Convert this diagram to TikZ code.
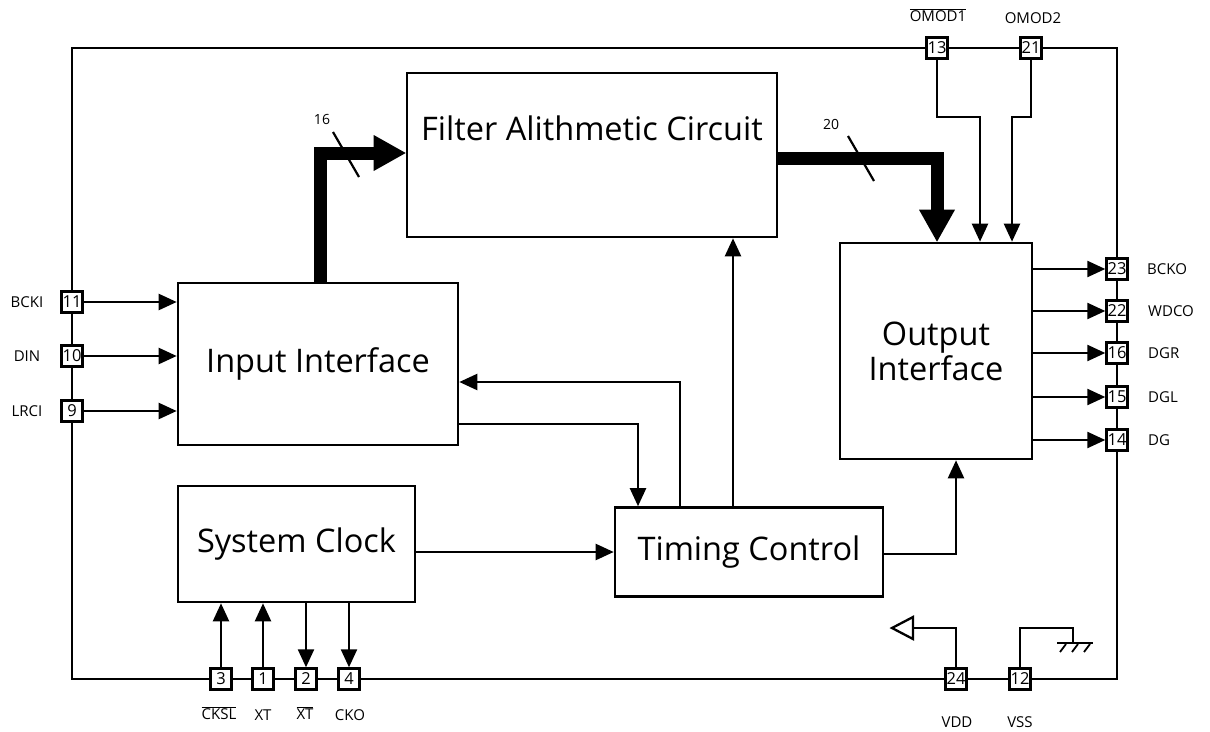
\documentclass[tikz,border=0pt]{standalone}
\usepackage{fontspec}
\setmainfont{Open Sans}
\usetikzlibrary{arrows.meta,calc}
\newcommand{\ovl}[1]{\ensuremath{\overline{\mbox{#1}}}}
\begin{document}
\begin{tikzpicture}[x=1pt,y=-1pt,
  blk/.style={draw,line width=2.6pt,inner sep=0pt,align=center,font=\fontsize{32.5}{35}\selectfont},
  boxtxt/.style={inner sep=0pt,font=\fontsize{32.5}{35}\selectfont},
  pin/.style={draw,line width=2.4pt,fill=white,minimum width=21pt,minimum height=21pt,inner sep=0pt,font=\fontsize{16.5}{16}\selectfont},
  lbl/.style={inner sep=0pt,font=\fontsize{15}{15}\selectfont},
  wire/.style={line width=2.3pt},
  arr/.style={wire,-{Triangle[length=18pt,width=16pt]}},
  bus/.style={line width=13pt,-{Triangle[length=32pt,width=36pt,line width=0pt]}},
  ]
\useasboundingbox (0,0) rectangle (1210,731);

% blocks
\node[blk,minimum width=370pt,minimum height=164pt] (filt) at (592,155) {};
\node[boxtxt] (filtT) at (592,128) {Filter Alithmetic Circuit};
\node[blk,minimum width=280pt,minimum height=162pt] (inp) at (318,364) {Input Interface};
\node[blk,minimum width=237pt,minimum height=116pt] (sys) at (296.5,544) {System Clock};
\node[blk,minimum width=268pt,minimum height=89pt] (tim) at (749,552) {Timing Control};
\node[blk,minimum width=192pt,minimum height=216pt] (outp) at (936,351) {Output\\Interface};

% frame corners
\coordinate (ctl) at (72,48);
\coordinate (ctr) at (1117,48);
\coordinate (cbr) at (1117,679);
\coordinate (cbl) at (72,679);

% pins
\node[pin] (P11) at (72,302) {11};
\node[pin] (P10) at (72,356) {10};
\node[pin] (P9) at (72,411) {9};
\node[pin] (P13) at (937,48) {13};
\node[pin] (P21) at (1031,48) {21};
\node[pin] (P23) at (1117,269) {23};
\node[pin] (P22) at (1117,311) {22};
\node[pin] (P16) at (1117,353) {16};
\node[pin] (P15) at (1117,397) {15};
\node[pin] (P14) at (1117,440) {14};
\node[pin] (P3) at (221,679) {3};
\node[pin] (P1) at (263,679) {1};
\node[pin] (P2) at (306,679) {2};
\node[pin] (P4) at (349,679) {4};
\node[pin] (P24) at (956,679) {24};
\node[pin] (P12) at (1020,679) {12};

% frame wire
\draw[wire] (P11) -- (ctl) -- (P13);
\draw[wire] (P13) -- (P21);
\draw[wire] (P21) -- (ctr) -- (P23);
\draw[wire] (P23) -- (P22);
\draw[wire] (P22) -- (P16);
\draw[wire] (P16) -- (P15);
\draw[wire] (P15) -- (P14);
\draw[wire] (P14) -- (cbr) -- (P12);
\draw[wire] (P12) -- (P24);
\draw[wire] (P24) -- (P4);
\draw[wire] (P4) -- (P2);
\draw[wire] (P2) -- (P1);
\draw[wire] (P1) -- (P3);
\draw[wire] (P3) -- (cbl) -- (P9);
\draw[wire] (P9) -- (P10);
\draw[wire] (P10) -- (P11);

% pin labels
\node[lbl] (lBCKI) at (27,302) {BCKI};
\node[lbl] (lDIN) at (27,356) {DIN};
\node[lbl] (lLRCI) at (27,411) {LRCI};
\node[lbl,anchor=west] (lBCKO) at (1147,269) {BCKO};
\node[lbl,anchor=west] (lWDCO) at (1148,311) {WDCO};
\node[lbl,anchor=west] (lDGR) at (1148,353) {DGR};
\node[lbl,anchor=west] (lDGL) at (1148,397) {DGL};
\node[lbl,anchor=west] (lDG) at (1148,440) {DG};
\node[lbl] (lOMOD1) at (938,15) {\ovl{OMOD1}};
\node[lbl] (lOMOD2) at (1033,18) {OMOD2};
\node[lbl] (lCKSL) at (219,713) {\ovl{CKSL}};
\node[lbl] (lXT) at (263,715) {XT};
\node[lbl] (lXTb) at (305,713) {\ovl{XT}};
\node[lbl] (lCKO) at (350,715) {CKO};
\node[lbl] (lVDD) at (957,722) {VDD};
\node[lbl] (lVSS) at (1020,722) {VSS};

% input arrows
\draw[arr] (P11) -- (inp.west |- P11);
\draw[arr] (P10) -- (inp.west |- P10);
\draw[arr] (P9) -- (inp.west |- P9);

% output arrows
\draw[arr] (outp.east |- P23) -- (P23);
\draw[arr] (outp.east |- P22) -- (P22);
\draw[arr] (outp.east |- P16) -- (P16);
\draw[arr] (outp.east |- P15) -- (P15);
\draw[arr] (outp.east |- P14) -- (P14);

% OMOD lines
\coordinate (m13) at (980,117);
\coordinate (m21) at (1012,117);
\draw[arr] (P13) |- (m13) -- (outp.north -| m13);
\draw[arr] (P21) |- (m21) -- (outp.north -| m21);

% system clock pins
\draw[arr] (P3) -- (sys.south -| P3);
\draw[arr] (P1) -- (sys.south -| P1);
\draw[arr] (sys.south -| P2) -- (P2);
\draw[arr] (sys.south -| P4) -- (P4);

% internal connections
\draw[arr] (sys.east |- tim.west) -- (tim.west);
\coordinate (c733) at (733,0);
\coordinate (c680) at (680,382);
\coordinate (c638) at (638,424);
\coordinate (c956) at (956,554);
\draw[arr] (tim.north -| c733) -- (filt.south -| c733);
\draw[arr] (tim.north -| c680) |- (inp.east |- c680);
\draw[arr] (inp.east |- c638) -| (tim.north -| c638);
\draw[arr] (tim.east |- c956) -| (outp.south -| c956);

% buses
\coordinate (b16) at (320,153);
\coordinate (b20) at (937,158);
\draw[bus] (inp.north -| b16) |- (filt.west |- b16);
\draw[bus] (filt.east |- b20) -| (outp.north -| b20);
\draw[line width=2.2pt] (333,132) -- (359,177);
\draw[line width=2.2pt] (848,136) -- (874,181);
\node[lbl,font=\fontsize{14}{14}\selectfont] (n16) at (322,119) {16};
\node[lbl,font=\fontsize{14}{14}\selectfont] (n20) at (831,124) {20};

% VDD symbol
\coordinate (vddA) at (913,628);
\draw[wire] (P24) |- (vddA);
\draw[wire,line join=miter] (913,617) -- (913,639) -- (892,628) -- cycle;

% VSS ground
\coordinate (vssA) at (1073,628);
\coordinate (gnd) at (1073,643);
\draw[wire] (P12) |- (vssA) -- (gnd);
\draw[wire] (1057,643) -- (1093,643);
\draw[line width=1.8pt] (1066,644) -- (1060,652);
\draw[line width=1.8pt] (1078,644) -- (1072,652);
\draw[line width=1.8pt] (1090,644) -- (1084,652);
\end{tikzpicture}
\end{document}
